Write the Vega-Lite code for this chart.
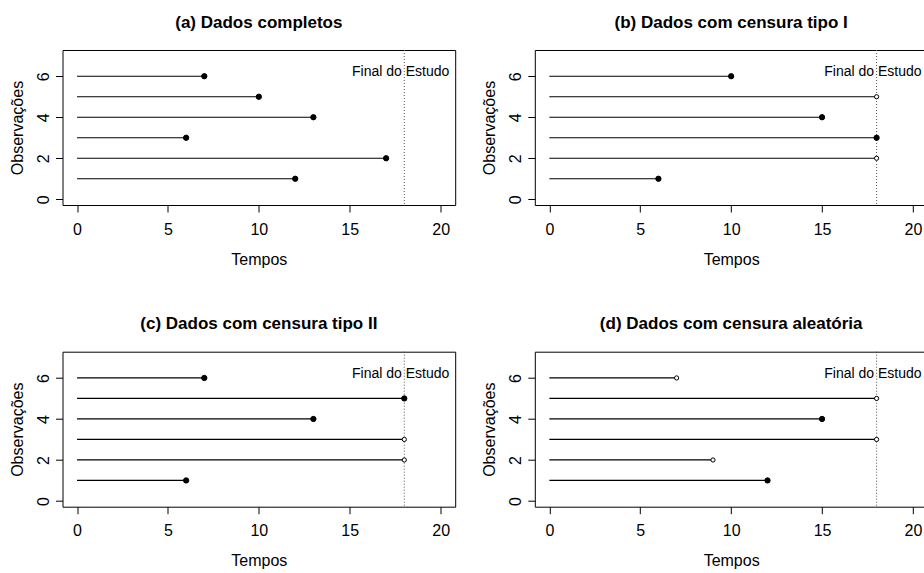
{
  "$schema": "https://vega.github.io/schema/vega-lite/v6.json",
  "padding": {"left": 8.5, "top": 13, "right": 0, "bottom": 0},
  "background": "white",
  "data": {"values": [
    {"panel": "a", "obs": 1, "t": 12, "status": "falha"},
    {"panel": "a", "obs": 2, "t": 17, "status": "falha"},
    {"panel": "a", "obs": 3, "t": 6, "status": "falha"},
    {"panel": "a", "obs": 4, "t": 13, "status": "falha"},
    {"panel": "a", "obs": 5, "t": 10, "status": "falha"},
    {"panel": "a", "obs": 6, "t": 7, "status": "falha"},
    {"panel": "b", "obs": 1, "t": 6, "status": "falha"},
    {"panel": "b", "obs": 2, "t": 18, "status": "censura"},
    {"panel": "b", "obs": 3, "t": 18, "status": "falha"},
    {"panel": "b", "obs": 4, "t": 15, "status": "falha"},
    {"panel": "b", "obs": 5, "t": 18, "status": "censura"},
    {"panel": "b", "obs": 6, "t": 10, "status": "falha"},
    {"panel": "c", "obs": 1, "t": 6, "status": "falha"},
    {"panel": "c", "obs": 2, "t": 18, "status": "censura"},
    {"panel": "c", "obs": 3, "t": 18, "status": "censura"},
    {"panel": "c", "obs": 4, "t": 13, "status": "falha"},
    {"panel": "c", "obs": 5, "t": 18, "status": "falha"},
    {"panel": "c", "obs": 6, "t": 7, "status": "falha"},
    {"panel": "d", "obs": 1, "t": 12, "status": "falha"},
    {"panel": "d", "obs": 2, "t": 9, "status": "censura"},
    {"panel": "d", "obs": 3, "t": 18, "status": "censura"},
    {"panel": "d", "obs": 4, "t": 15, "status": "falha"},
    {"panel": "d", "obs": 5, "t": 18, "status": "censura"},
    {"panel": "d", "obs": 6, "t": 7, "status": "censura"}
  ]},
  "columns": 2,
  "spacing": {"row": 146.7, "column": 79.3},
  "bounds": "flush",
  "concat": [
    {
      "width": 392.7, "height": 155,
      "title": {"text": "(a) Dados completos"},
      "transform": [{"filter": "datum.panel == 'a'"}],
      "layer": [
        {"transform": [{"filter": "datum.obs == 1"}], "mark": {"type": "rule", "color": "#555555", "strokeWidth": 1, "strokeDash": [1, 2]}, "encoding": {"x": {"datum": 18, "type": "quantitative"}}},
        {"mark": {"type": "rule", "color": "black", "strokeWidth": 1.2},
         "encoding": {
           "x": {"field": "t", "type": "quantitative", "title": "Tempos", "scale": {"domain": [-0.8, 20.8], "nice": false, "zero": false}, "axis": {"values": [0, 5, 10, 15, 20], "labelPadding": 9, "titlePadding": 14}},
           "x2": {"datum": 0},
           "y": {"field": "obs", "type": "quantitative", "title": "Observações", "scale": {"domain": [-0.28, 7.28], "nice": false, "zero": false}, "axis": {"values": [0, 1, 2, 3, 4, 5, 6, 7], "labelExpr": "datum.value % 2 == 0 ? datum.label : ''", "labelAngle": -90, "labelAlign": "center", "labelBaseline": "bottom", "labelPadding": 4, "titlePadding": 10}}
         }},
        {"mark": {"type": "point", "shape": "circle", "stroke": "black", "strokeWidth": 1, "opacity": 1},
         "encoding": {
           "x": {"field": "t", "type": "quantitative"},
           "y": {"field": "obs", "type": "quantitative"},
           "fill": {"field": "status", "type": "nominal", "scale": {"domain": ["falha", "censura"], "range": ["black", "white"]}, "legend": null},
           "size": {"field": "status", "type": "nominal", "scale": {"domain": ["falha", "censura"], "range": [28, 18]}, "legend": null}
         }},
        {"transform": [{"filter": "datum.obs == 1"}], "mark": {"type": "text", "fontSize": 14, "align": "center", "baseline": "middle", "color": "black"},
         "encoding": {"x": {"datum": 17.8, "type": "quantitative"}, "y": {"datum": 6.2, "type": "quantitative"}, "text": {"value": "Final do Estudo"}}}
      ]
    },
    {
      "width": 392.7, "height": 155,
      "title": {"text": "(b) Dados com censura tipo I"},
      "transform": [{"filter": "datum.panel == 'b'"}],
      "layer": [
        {"transform": [{"filter": "datum.obs == 1"}], "mark": {"type": "rule", "color": "#555555", "strokeWidth": 1, "strokeDash": [1, 2]}, "encoding": {"x": {"datum": 18, "type": "quantitative"}}},
        {"mark": {"type": "rule", "color": "black", "strokeWidth": 1.2},
         "encoding": {
           "x": {"field": "t", "type": "quantitative", "title": "Tempos", "scale": {"domain": [-0.8, 20.8], "nice": false, "zero": false}, "axis": {"values": [0, 5, 10, 15, 20], "labelPadding": 9, "titlePadding": 14}},
           "x2": {"datum": 0},
           "y": {"field": "obs", "type": "quantitative", "title": "Observações", "scale": {"domain": [-0.28, 7.28], "nice": false, "zero": false}, "axis": {"values": [0, 1, 2, 3, 4, 5, 6, 7], "labelExpr": "datum.value % 2 == 0 ? datum.label : ''", "labelAngle": -90, "labelAlign": "center", "labelBaseline": "bottom", "labelPadding": 4, "titlePadding": 10}}
         }},
        {"mark": {"type": "point", "shape": "circle", "stroke": "black", "strokeWidth": 1, "opacity": 1},
         "encoding": {
           "x": {"field": "t", "type": "quantitative"},
           "y": {"field": "obs", "type": "quantitative"},
           "fill": {"field": "status", "type": "nominal", "scale": {"domain": ["falha", "censura"], "range": ["black", "white"]}, "legend": null},
           "size": {"field": "status", "type": "nominal", "scale": {"domain": ["falha", "censura"], "range": [28, 18]}, "legend": null}
         }},
        {"transform": [{"filter": "datum.obs == 1"}], "mark": {"type": "text", "fontSize": 14, "align": "center", "baseline": "middle", "color": "black"},
         "encoding": {"x": {"datum": 17.8, "type": "quantitative"}, "y": {"datum": 6.2, "type": "quantitative"}, "text": {"value": "Final do Estudo"}}}
      ]
    },
    {
      "width": 392.7, "height": 155,
      "title": {"text": "(c) Dados com censura tipo II"},
      "transform": [{"filter": "datum.panel == 'c'"}],
      "layer": [
        {"transform": [{"filter": "datum.obs == 1"}], "mark": {"type": "rule", "color": "#555555", "strokeWidth": 1, "strokeDash": [1, 2]}, "encoding": {"x": {"datum": 18, "type": "quantitative"}}},
        {"mark": {"type": "rule", "color": "black", "strokeWidth": 1.2},
         "encoding": {
           "x": {"field": "t", "type": "quantitative", "title": "Tempos", "scale": {"domain": [-0.8, 20.8], "nice": false, "zero": false}, "axis": {"values": [0, 5, 10, 15, 20], "labelPadding": 9, "titlePadding": 14}},
           "x2": {"datum": 0},
           "y": {"field": "obs", "type": "quantitative", "title": "Observações", "scale": {"domain": [-0.28, 7.28], "nice": false, "zero": false}, "axis": {"values": [0, 1, 2, 3, 4, 5, 6, 7], "labelExpr": "datum.value % 2 == 0 ? datum.label : ''", "labelAngle": -90, "labelAlign": "center", "labelBaseline": "bottom", "labelPadding": 4, "titlePadding": 10}}
         }},
        {"mark": {"type": "point", "shape": "circle", "stroke": "black", "strokeWidth": 1, "opacity": 1},
         "encoding": {
           "x": {"field": "t", "type": "quantitative"},
           "y": {"field": "obs", "type": "quantitative"},
           "fill": {"field": "status", "type": "nominal", "scale": {"domain": ["falha", "censura"], "range": ["black", "white"]}, "legend": null},
           "size": {"field": "status", "type": "nominal", "scale": {"domain": ["falha", "censura"], "range": [28, 18]}, "legend": null}
         }},
        {"transform": [{"filter": "datum.obs == 1"}], "mark": {"type": "text", "fontSize": 14, "align": "center", "baseline": "middle", "color": "black"},
         "encoding": {"x": {"datum": 17.8, "type": "quantitative"}, "y": {"datum": 6.2, "type": "quantitative"}, "text": {"value": "Final do Estudo"}}}
      ]
    },
    {
      "width": 392.7, "height": 155,
      "title": {"text": "(d) Dados com censura aleatória"},
      "transform": [{"filter": "datum.panel == 'd'"}],
      "layer": [
        {"transform": [{"filter": "datum.obs == 1"}], "mark": {"type": "rule", "color": "#555555", "strokeWidth": 1, "strokeDash": [1, 2]}, "encoding": {"x": {"datum": 18, "type": "quantitative"}}},
        {"mark": {"type": "rule", "color": "black", "strokeWidth": 1.2},
         "encoding": {
           "x": {"field": "t", "type": "quantitative", "title": "Tempos", "scale": {"domain": [-0.8, 20.8], "nice": false, "zero": false}, "axis": {"values": [0, 5, 10, 15, 20], "labelPadding": 9, "titlePadding": 14}},
           "x2": {"datum": 0},
           "y": {"field": "obs", "type": "quantitative", "title": "Observações", "scale": {"domain": [-0.28, 7.28], "nice": false, "zero": false}, "axis": {"values": [0, 1, 2, 3, 4, 5, 6, 7], "labelExpr": "datum.value % 2 == 0 ? datum.label : ''", "labelAngle": -90, "labelAlign": "center", "labelBaseline": "bottom", "labelPadding": 4, "titlePadding": 10}}
         }},
        {"mark": {"type": "point", "shape": "circle", "stroke": "black", "strokeWidth": 1, "opacity": 1},
         "encoding": {
           "x": {"field": "t", "type": "quantitative"},
           "y": {"field": "obs", "type": "quantitative"},
           "fill": {"field": "status", "type": "nominal", "scale": {"domain": ["falha", "censura"], "range": ["black", "white"]}, "legend": null},
           "size": {"field": "status", "type": "nominal", "scale": {"domain": ["falha", "censura"], "range": [28, 18]}, "legend": null}
         }},
        {"transform": [{"filter": "datum.obs == 1"}], "mark": {"type": "text", "fontSize": 14, "align": "center", "baseline": "middle", "color": "black"},
         "encoding": {"x": {"datum": 17.8, "type": "quantitative"}, "y": {"datum": 6.2, "type": "quantitative"}, "text": {"value": "Final do Estudo"}}}
      ]
    }
  ],
  "config": {
    "font": "Liberation Sans",
    "view": {"stroke": "black", "strokeWidth": 1},
    "axis": {"domain": false, "grid": false, "ticks": true, "tickColor": "black", "tickSize": 7, "tickWidth": 1, "labelColor": "black", "titleColor": "black", "labelFontSize": 16, "titleFontSize": 16, "titleFontWeight": "normal", "labelFont": "Liberation Sans", "titleFont": "Liberation Sans", "labelOverlap": false, "labelFlush": false},
    "title": {"fontSize": 17, "fontWeight": "bold", "color": "black", "offset": 18, "anchor": "middle", "font": "Liberation Sans"},
    "text": {"font": "Liberation Sans"}
  }
}
